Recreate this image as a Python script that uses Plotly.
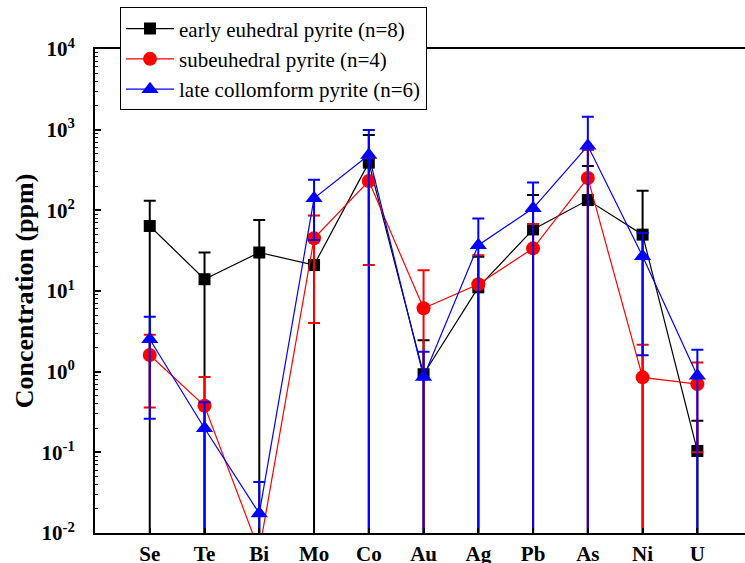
import plotly.graph_objects as go

# Trace elements analysed in pyrite
elements = ["Se", "Te", "Bi", "Mo", "Co", "Au", "Ag", "Pb", "As", "Ni", "U"]

# Mean concentrations (ppm) and standard deviations for each pyrite generation
early_mean = [64, 14, 30, 21, 390, 0.93, 11.1, 58, 134, 50, 0.104]
early_sd = [67, 16, 46, 24, 468, 1.52, 15.5, 97, 220, 125, 0.143]

sub_mean = [1.61, 0.378, 0.006, 45, 231, 6.1, 12.1, 33.8, 252, 0.85, 0.70]
sub_sd = [1.25, 0.48, 0.003, 41, 210, 12, 15.7, 34, 307, 1.31, 0.6]

late_mean = [2.52, 0.199, 0.0175, 141, 485, 0.86, 37, 106, 632, 27, 0.89]
late_sd = [2.26, 0.22, 0.0255, 98, 505, 0.9, 42, 116, 817, 25.4, 0.98]

series_names = [
    "early euhedral pyrite (n=8)",
    "subeuhedral pyrite (n=4)",
    "late collomform pyrite (n=6)",
]

y_exponents = [-2, -1, 0, 1, 2, 3, 4]

SERIF = "Liberation Serif"

styles = [
    dict(color="#000000", symbol="square", size=12),
    dict(color="#FF0000", symbol="circle", size=14),
    dict(color="#0000FF", symbol="triangle-up", size=15),
]

fig = go.Figure()
for name, mean, sd, st in zip(
    series_names,
    [early_mean, sub_mean, late_mean],
    [early_sd, sub_sd, late_sd],
    styles,
):
    fig.add_trace(
        go.Scatter(
            x=elements,
            y=mean,
            name=name,
            mode="lines+markers",
            line=dict(color=st["color"], width=1.2),
            marker=dict(color=st["color"], symbol=st["symbol"], size=st["size"]),
            error_y=dict(
                type="data",
                array=sd,
                symmetric=True,
                color=st["color"],
                thickness=2,
                width=6,
            ),
            cliponaxis=True,
        )
    )

fig.update_layout(
    width=745,
    height=563,
    margin=dict(l=95, r=0, t=49, b=30, autoexpand=False),
    paper_bgcolor="white",
    plot_bgcolor="white",
    font=dict(family=SERIF, color="black"),
    showlegend=True,
    legend=dict(
        x=0.0385,
        y=1.086,
        xanchor="left",
        yanchor="top",
        bgcolor="white",
        bordercolor="black",
        borderwidth=1,
        font=dict(family=SERIF, size=21, color="black"),
        itemwidth=48,
        tracegroupgap=0,
    ),
)

fig.update_xaxes(
    type="category",
    range=[-1, 10.87],
    automargin=False,
    showline=True,
    linecolor="black",
    linewidth=2,
    mirror=True,
    showgrid=False,
    zeroline=False,
    ticks="inside",
    ticklen=5,
    tickwidth=1.5,
    tickcolor="black",
    tickfont=dict(family=SERIF, size=21, weight="bold", color="black"),
    ticklabelstandoff=1,
)

fig.update_yaxes(
    type="log",
    range=[-2, 4],
    automargin=False,
    showline=True,
    linecolor="black",
    linewidth=2,
    mirror=False,
    showgrid=False,
    zeroline=False,
    ticks="inside",
    ticklen=6,
    tickwidth=1.5,
    tickcolor="black",
    tickvals=[10.0 ** e for e in y_exponents],
    ticktext=[f"10<sup>{e}</sup>" for e in y_exponents],
    tickfont=dict(family=SERIF, size=21, weight="bold", color="black"),
    ticklabelstandoff=14,
    minor=dict(ticks="inside", ticklen=3, tickwidth=1, tickcolor="black", dtick="D1"),
    title=dict(
        text="Concentration (ppm)",
        font=dict(family=SERIF, size=26, weight="bold", color="black"),
        standoff=0,
    ),
)

fig.write_html("out.html")
